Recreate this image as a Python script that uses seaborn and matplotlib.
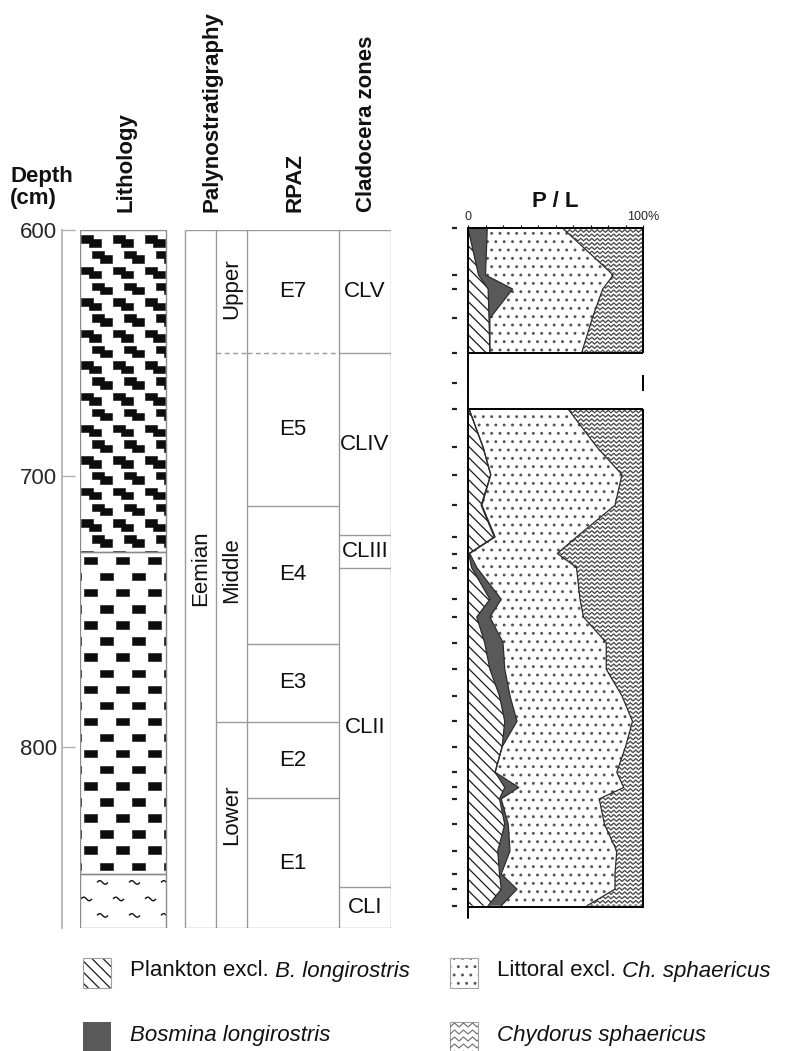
import numpy as np
import pandas as pd
import matplotlib
matplotlib.use("Agg")
import matplotlib.pyplot as plt
import seaborn as sns
from matplotlib.patches import Rectangle
from matplotlib.collections import LineCollection, PatchCollection

# ---- values ----
depth_ticks = [600, 700, 800]
# the drawn depth scale of the log is slightly uneven: cm -> px below core top
scale_cm = [500, 600, 700, 800, 900]
scale_px = [-246, 0, 246, 517, 788]
core_top, core_base = 600, 867

column_titles = ["Lithology", "Palynostratigraphy", "RPAZ", "Cladocera zones"]

lith_types = ["staircase", "blocks", "wavy"]
lith_bounds = [600, 728, 847, 867]

period_name = "Eemian"
period_label_at = 734
sub_names = ["Upper", "Middle", "Lower"]
sub_bounds = [600, 650, 791, 867]
sub_label_at = [624, 735, 825]
rpaz_names = ["E7", "E5", "E4", "E3", "E2", "E1"]
rpaz_bounds = [600, 650, 711, 762, 791, 819, 867]
clad_names = ["CLV", "CLIV", "CLIII", "CLII", "CLI"]
clad_bounds = [600, 650, 722, 734, 852, 867]
uncertain_bound = 650  # dashed in the pollen columns

# P/L diagram (% of sum); two runs of samples either side of the missing section
pl_depth = [600, 618.5, 624, 635.5, 649,
            671, 686, 697, 709, 721.5, 728, 733.5, 746, 753, 763, 773.5,
            784, 794, 804, 814, 820, 824.5, 834.5, 845, 854, 860, 866.5]
pl_run = [1] * 5 + [2] * 22
plankton = [0, 6, 11.5, 12, 12.5,
            0.5, 8.5, 13, 7.5, 15, 0.5, 2, 12.5, 5, 9.5, 12.5,
            18, 21, 19.5, 15.5, 21, 18, 21, 17, 18, 19, 11.5]
bosmina = [11, 4, 14, 0.5, 0,
           0, 0, 0, 0.5, 0.5, 0.5, 3, 6.5, 7.5, 10.5, 8.5,
           6, 7, 0, 0, 8, 1, 2, 7, 1, 9, 7.5]
littoral = [43, 73, 51.5, 58.5, 52.5,
            56.5, 65, 75, 76, 46.5, 50, 57, 45, 53.5, 59, 58,
            64, 66, 70.5, 69.5, 60, 56, 55, 61, 65, 56, 49]
chydorus = [46, 17, 23, 29, 35,
            43, 26.5, 12, 16, 38, 49, 38, 36, 34, 21, 21,
            12, 6, 10, 15, 11, 25, 22, 15, 16, 16, 32]
gap_top, gap_base = 649, 671
gap_tick = 661

legend_plain = ["Plankton excl.", "Littoral excl.", "", ""]
legend_italic = [" B. longirostris", " Ch. sphaericus", "Bosmina longirostris", "Chydorus sphaericus"]
legend_kind = ["plankton", "littoral", "bosmina", "chydorus"]

# ---- figure ----
sns.set_theme(style="white")
plt.rcParams["font.family"] = ["Liberation Sans", "DejaVu Sans"]
plt.rcParams["text.color"] = "#111111"
plt.rcParams["hatch.linewidth"] = 0.9

W, H = 796, 1051
fig = plt.figure(figsize=(W / 100, H / 100), dpi=100)
FS = 16
GRID = "#9a9a9a"


def frac(x0, y0, x1, y1):
    return [x0 / W, 1 - y1 / H, (x1 - x0) / W, (y1 - y0) / H]


def fwd(d):
    return np.interp(d, scale_cm, scale_px)


def inv(p):
    return np.interp(p, scale_px, scale_cm)


def zigzag(ax, x0, x1, y0, y1, step_x, step_y, amp, **kw):
    xs = np.arange(x0 - step_x, x1 + step_x, step_x / 2)
    up = np.arange(len(xs)) % 2 == 1
    segs = [np.column_stack([xs, np.where(up, y - amp, y)])
            for y in np.arange(y0, y1 + step_y, step_y)]
    lc = LineCollection(segs, **kw)
    ax.add_collection(lc, autolim=False)
    return lc


# ---- depth axis, lithology log and zone columns ----
ax = fig.add_axes(frac(80, 230, 391, 928))
ax.set_yscale("function", functions=(fwd, inv))
ax.set_xlim(80, 391)
ax.set_ylim(core_base, core_top)
for s in ["top", "right", "bottom"]:
    ax.spines[s].set_visible(False)
ax.spines["left"].set_position(("outward", 13))
ax.spines["left"].set_color("#b0b0b0")
ax.set_xticks([])
ax.set_yticks(depth_ticks)
ax.tick_params(axis="y", left=True, direction="in", length=9.5, width=1,
               color="#b0b0b0", labelsize=FS, pad=3.5)


def block(x, y_px, w, h_px):
    return Rectangle((x, inv(y_px)), w, inv(y_px + h_px) - inv(y_px))


LX0, LX1 = 80, 166
for kind, top, base in zip(lith_types, lith_bounds[:-1], lith_bounds[1:]):
    frame = Rectangle((LX0, top), LX1 - LX0, base - top, facecolor="white",
                      edgecolor="none", zorder=1)
    ax.add_patch(frame)
    p0, p1 = fwd(top), fwd(base)
    marks, waves = [], []
    if kind == "staircase":
        for k, yc in enumerate(np.arange(p0 + 11, p1 + 10, 15.8)):
            for x0 in np.arange(81 + 11 * (k % 2) - 32, LX1, 32):
                marks.append(block(x0, yc - 5.8, 12, 7.4))
                marks.append(block(x0 + 7.5, yc - 1.6, 12, 7.4))
    elif kind == "blocks":
        for k, yc in enumerate(np.arange(p0 + 9, p1 + 10, 16.1)):
            for xc in np.arange(90 + 16 * (k % 2) - 32, LX1 + 8, 32):
                marks.append(block(xc - 6.5, yc - 3.7, 13, 7.4))
    else:
        t = np.linspace(0, 1, 15)
        for k, yc in enumerate(np.arange(p0 + 8.6, p1, 16.5)):
            for x0 in np.arange(97 - 16 * (k % 2) - 32, LX1, 32):
                waves.append(np.column_stack([x0 + 11 * t,
                                              inv(yc - 1.8 * np.sin(2 * np.pi * t))]))
    if marks:
        pc = PatchCollection(marks, facecolor="#0d0d0d", edgecolor="#0d0d0d",
                             linewidth=0.4, zorder=2)
        ax.add_collection(pc, autolim=False)
        pc.set_clip_path(frame)
    if waves:
        lc = LineCollection(waves, colors="#111111", linewidths=1, zorder=2)
        ax.add_collection(lc, autolim=False)
        lc.set_clip_path(frame)
    ax.add_patch(Rectangle((LX0, top), LX1 - LX0, base - top, fill=False,
                           edgecolor="#8a8a8a", lw=1, zorder=3))

cols = [185, 216, 247, 339, 391]
ax.vlines(cols, core_top, core_base, color=GRID, lw=1, zorder=3)
ax.hlines([core_top, core_base], cols[0], cols[-1], color=GRID, lw=1, zorder=3)


def zone_lines(bounds, x0, x1, dashed_ok):
    for b in bounds[1:-1]:
        ls = (0, (3.5, 2.5)) if (dashed_ok and b == uncertain_bound) else "solid"
        ax.hlines(b, x0, x1, color=GRID, lw=1, linestyles=[ls], zorder=3)


def mid(a, b):
    return inv((fwd(a) + fwd(b)) / 2)


zone_lines(sub_bounds, cols[1], cols[2], True)
zone_lines(rpaz_bounds, cols[2], cols[3], True)
zone_lines(clad_bounds, cols[3], cols[4], False)

ax.text((cols[0] + cols[1]) / 2, period_label_at, period_name, rotation=90,
        ha="center", va="center", fontsize=FS)
for name, at in zip(sub_names, sub_label_at):
    ax.text((cols[1] + cols[2]) / 2, at, name, rotation=90, ha="center",
            va="center", fontsize=FS)
for name, a, b in zip(rpaz_names, rpaz_bounds[:-1], rpaz_bounds[1:]):
    ax.text((cols[2] + cols[3]) / 2, mid(a, b), name, ha="center", va="center", fontsize=FS)
for name, a, b in zip(clad_names, clad_bounds[:-1], clad_bounds[1:]):
    ax.text((cols[3] + cols[4]) / 2, mid(a, b), name, ha="center", va="center", fontsize=FS)

for x, title in zip([126, 212, 295, 367], column_titles):
    fig.text(x / W, 1 - 212 / H, title, rotation=90, ha="center", va="bottom",
             fontsize=FS, fontweight="bold")
fig.text(10 / W, 1 - 166 / H, "Depth\n(cm)", ha="left", va="top", fontsize=FS,
         fontweight="bold", linespacing=1.05)

# ---- P / L diagram ----
df = pd.DataFrame({"depth": pl_depth, "run": pl_run, "plankton": plankton,
                   "bosmina": bosmina, "littoral": littoral, "chydorus": chydorus})
df["c1"] = df["plankton"]
df["c2"] = df["c1"] + df["bosmina"]
df["c3"] = df["c2"] + df["littoral"]

axp = fig.add_axes(frac(468, 228, 643, 907))
to_x = 100 / 175
to_y = (core_base - core_top) / 679

for run, seg in df.groupby("run"):
    d = seg["depth"].to_numpy()
    axp.fill_betweenx(d, 0, seg["c1"], facecolor="white", edgecolor="#1a1a1a",
                      hatch="\\\\\\", linewidth=0, zorder=1)
    axp.fill_betweenx(d, seg["c1"], seg["c2"], facecolor="#595959",
                      edgecolor="none", linewidth=0, zorder=1)
    axp.fill_betweenx(d, seg["c2"], seg["c3"], facecolor="white", edgecolor="#555555",
                      hatch="..", linewidth=0, zorder=1)
    ch = axp.fill_betweenx(d, seg["c3"], 100, facecolor="white", edgecolor="none",
                           linewidth=0, zorder=1)
    zz = zigzag(axp, 0, 100, d.min(), d.max(), 5.5 * to_x, 4.3 * to_y, 2.6 * to_y,
                colors="#4a4a4a", linewidths=0.95, zorder=1.5)
    zz.set_clip_path(ch.get_paths()[0], axp.transData)
    for c in ["c1", "c2", "c3"]:
        sns.lineplot(x=seg[c], y=seg["depth"], sort=False, estimator=None,
                     color="#2b2b2b", linewidth=0.9, ax=axp, legend=False, zorder=2)

axp.hlines([gap_top, gap_base], 0, 100, color="black", lw=1.4, zorder=4)
axp.vlines([100, 100, 100], [core_top, gap_base, gap_tick - 3],
           [gap_top, core_base, gap_tick + 3],
           color="black", lw=1.4, zorder=4, clip_on=False)
axp.axvline(0, ymin=-11 / 679, ymax=1, color="black", lw=1.4, clip_on=False, zorder=4)

axp.set_xlim(0, 100)
axp.set_ylim(core_base, core_top)
axp.set_xlabel("")
axp.set_ylabel("")
for s in ["top", "bottom"]:
    axp.spines[s].set_color("black")
    axp.spines[s].set_linewidth(1.4)
axp.spines["right"].set_visible(False)
axp.spines["left"].set_position(("outward", 8))
axp.spines["left"].set_visible(False)
axp.xaxis.tick_top()
axp.set_xticks(np.arange(0, 101, 10))
axp.set_xticklabels(["0"] + [""] * 9 + ["100%"])
axp.tick_params(axis="x", top=True, bottom=False, direction="out", length=2.5,
                width=0.8, color="black", labelsize=9, pad=1)
axp.set_yticks(sorted(pl_depth + [gap_tick]))
axp.tick_params(axis="y", left=True, labelleft=False, direction="out", length=3.6,
                width=1.6, color="#222222")
fig.text(555 / W, 1 - 212 / H, "P / L", ha="center", va="bottom", fontsize=FS,
         fontweight="bold")

# ---- legend ----
axl = fig.add_axes([0, 0, 1, 1], zorder=-1)
axl.set_xlim(0, W)
axl.set_ylim(H, 0)
axl.axis("off")
icon_xy = [(83, 958), (450, 958), (83, 1022), (450, 1022)]
for kind, (x, y), plain, ital in zip(legend_kind, icon_xy, legend_plain, legend_italic):
    if kind == "plankton":
        axl.add_patch(Rectangle((x, y), 28, 30, facecolor="white", edgecolor="#1a1a1a",
                                hatch="\\\\\\", linewidth=0))
    elif kind == "littoral":
        axl.add_patch(Rectangle((x, y), 28, 30, facecolor="white", edgecolor="#555555",
                                hatch="..", linewidth=0))
    elif kind == "bosmina":
        axl.add_patch(Rectangle((x, y), 28, 30, facecolor="#595959", linewidth=0))
    else:
        clip = Rectangle((x, y), 28, 30, facecolor="white", linewidth=0)
        axl.add_patch(clip)
        zz = zigzag(axl, x, x + 28, y + 5, y + 32, 9, 7, 4, colors="#6a6a6a",
                    linewidths=0.8)
        zz.set_clip_path(clip)
    if kind != "bosmina":
        axl.add_patch(Rectangle((x, y), 28, 30, fill=False, edgecolor="#a0a0a0", lw=0.8))
    tx, ty = x + 47, y + 13
    if plain:
        t = axl.text(tx, ty, plain, fontsize=FS, va="center", ha="left")
        axl.annotate(ital, xy=(1, 0.5), xycoords=t, va="center", ha="left",
                     fontsize=FS, style="italic")
    else:
        axl.text(tx, ty, ital, fontsize=FS, va="center", ha="left", style="italic")

fig.savefig("out.png", dpi=100)
